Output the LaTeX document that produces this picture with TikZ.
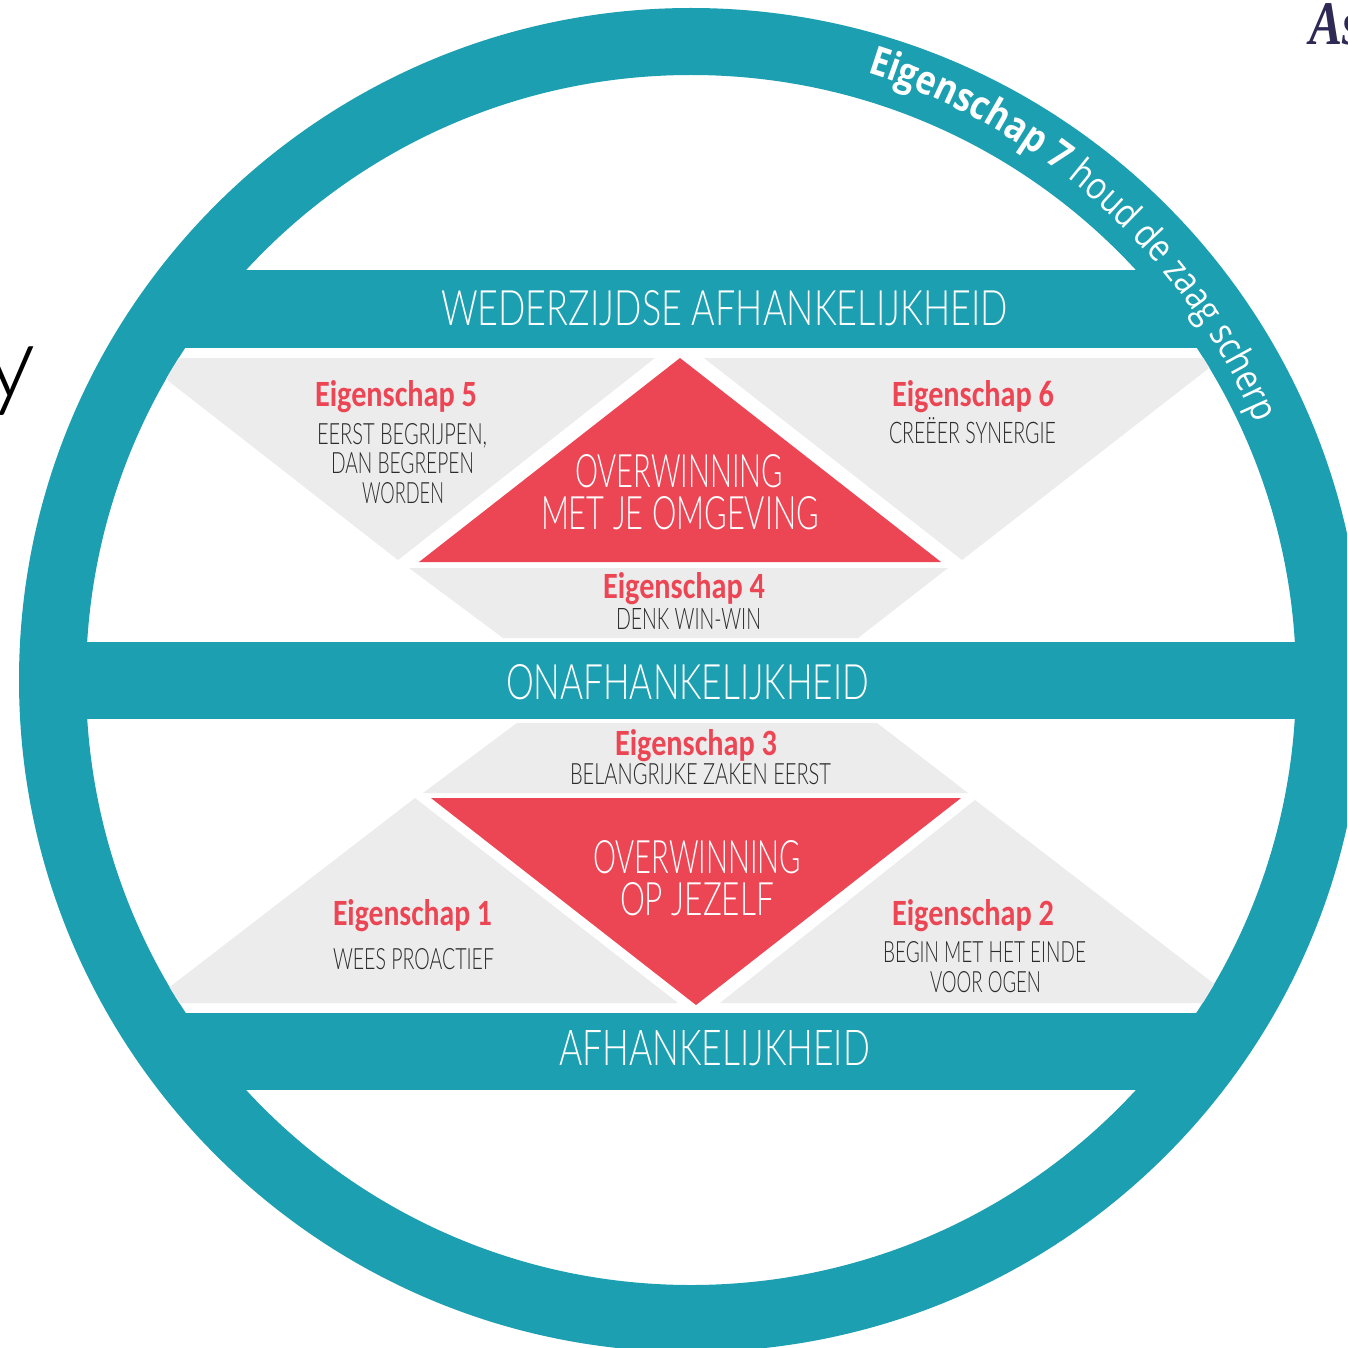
\documentclass[tikz,border=0pt]{standalone}
\usepackage{fontspec}
\usepackage{graphicx}
\usetikzlibrary{decorations.text}
\setmainfont{Carlito}
\newfontfamily\capsfont{Lato Light}
\newfontfamily\headfont{Carlito}
\newfontfamily\ringfont[FakeStretch=0.85]{Open Sans}
\newfontfamily\logofont[FakeStretch=0.8]{Liberation Serif}
\definecolor{teal}{HTML}{1C9FB0}
\definecolor{coral}{HTML}{EC4655}
\definecolor{pale}{HTML}{ECECEC}
\definecolor{inkgrey}{HTML}{2B2B2B}
\definecolor{navy}{HTML}{2E2A55}
\newcommand{\fit}[3]{\resizebox{#1pt}{#2pt}{#3}}
\tikzset{
  lbl/.style={anchor=base west,inner sep=0pt,outer sep=0pt},
  band/.style={lbl,text=white,font=\capsfont\fontsize{40}{40}\selectfont},
  head/.style={lbl,text=coral,font=\headfont\bfseries\fontsize{30}{30}\selectfont},
  body/.style={lbl,text=inkgrey,font=\capsfont\fontsize{24}{24}\selectfont},
  panel/.style={fill=pale,draw=none},
  wedge/.style={fill=coral,draw=none},
  bar/.style={fill=teal,draw=none}
}
\begin{document}
\begin{tikzpicture}[x=1pt,y=-1pt]
\useasboundingbox (0,0) rectangle (1347,1348);
\clip (0,0) rectangle (1347,1348);
\fill[white] (0,0) rectangle (1347,1348);
% ring
\fill[teal,even odd rule] (691,680) circle[radius=672] (691,680) circle[radius=605];
% bars
\begin{scope}
\clip (691,680) circle[radius=640];
\fill[bar] (0,270) rectangle (1347,348);
\fill[bar] (0,642) rectangle (1347,719);
\fill[bar] (0,1013) rectangle (1347,1090);
\end{scope}
% grey panels
\begin{scope}
\clip (691,680) circle[radius=605];
\fill[panel] (139,358) -- (655,358) -- (398,560) -- cycle;
\fill[panel] (704,358) -- (1222,358) -- (962,560) -- cycle;
\fill[panel] (409,568) -- (948,568) -- (858,638) -- (503,638) -- cycle;
\fill[panel] (517,723) -- (877,723) -- (968,793) -- (423,793) -- cycle;
\fill[panel] (415,798) -- (678,1003) -- (149,1003) -- cycle;
\fill[panel] (975,800) -- (1239,1003) -- (720,1003) -- cycle;
\end{scope}
% red wedges
\fill[wedge] (680,358) -- (941,562) -- (419,562) -- cycle;
\fill[wedge] (431,798) -- (961,798) -- (696,1005) -- cycle;
% bar labels
\node[band] (wa) at (441,325) {\fit{567}{35}{WEDERZIJDSE AFHANKELIJKHEID}};
\node[band] (oa) at (506,699) {\fit{363}{35}{ONAFHANKELIJKHEID}};
\node[band] (af) at (559,1065) {\fit{311}{35}{AFHANKELIJKHEID}};
% wedge labels
\node[band] (ov1a) at (575,487) {\fit{208}{33}{OVERWINNING}};
\node[band] (ov1b) at (541,529) {\fit{278}{33}{MET JE OMGEVING}};
\node[band] (ov2a) at (593,873) {\fit{208}{33}{OVERWINNING}};
\node[band] (ov2b) at (620,915) {\fit{154}{33}{OP JEZELF}};
% headings
\node[head] (e5) at (315,406) {\fit{162}{26}{Eigenschap 5}};
\node[head] (e6) at (892,406) {\fit{162}{26}{Eigenschap 6}};
\node[head] (e4) at (603,598) {\fit{162}{26}{Eigenschap 4}};
\node[head] (e3) at (615,755) {\fit{162}{26}{Eigenschap 3}};
\node[head] (e1) at (333,925) {\fit{159}{26}{Eigenschap 1}};
\node[head] (e2) at (892,925) {\fit{162}{26}{Eigenschap 2}};
% body text
\node[body] (b5a) at (317,444) {\fit{170}{21}{EERST BEGRIJPEN,}};
\node[body] (b5b) at (331,473) {\fit{143}{21}{DAN BEGREPEN}};
\node[body] (b5c) at (362,503) {\fit{82}{21}{WORDEN}};
\node[body] (b6) at (889,443) {\fit{167}{26}{CREËER SYNERGIE}};
\node[body] (b4) at (616,629) {\fit{145}{21}{DENK WIN-WIN}};
\node[body] (b3) at (570,784) {\fit{261}{21}{BELANGRIJKE ZAKEN EERST}};
\node[body] (b1) at (333,969) {\fit{161}{21}{WEES PROACTIEF}};
\node[body] (b2a) at (883,962) {\fit{203}{21}{BEGIN MET HET EINDE}};
\node[body] (b2b) at (930,992) {\fit{111}{21}{VOOR OGEN}};
% curved text
\begin{scope}[shift={(681.1,670.1)},x=1pt,y=1pt]
\path[decorate,decoration={text along path,
  text={|\ringfont\bfseries\fontsize{40}{40}\selectfont\color{white}|Eigenschap 7 |\ringfont\fontsize{38}{38}\selectfont\color{white}|houd de zaag scherp}}]
  (72.7:625.4) arc[start angle=72.7,end angle=17,radius=625.4];
\end{scope}
% stray fragments at the edges
\node[anchor=base east,inner sep=0pt,text=black,font=\capsfont\fontsize{102}{102}\selectfont] (frag) at (36,397) {y};
\node[anchor=base west,inner sep=0pt,text=navy,font=\logofont\bfseries\itshape\fontsize{62}{62}\selectfont] (logo) at (1309,45) {As};
\end{tikzpicture}
\end{document}
